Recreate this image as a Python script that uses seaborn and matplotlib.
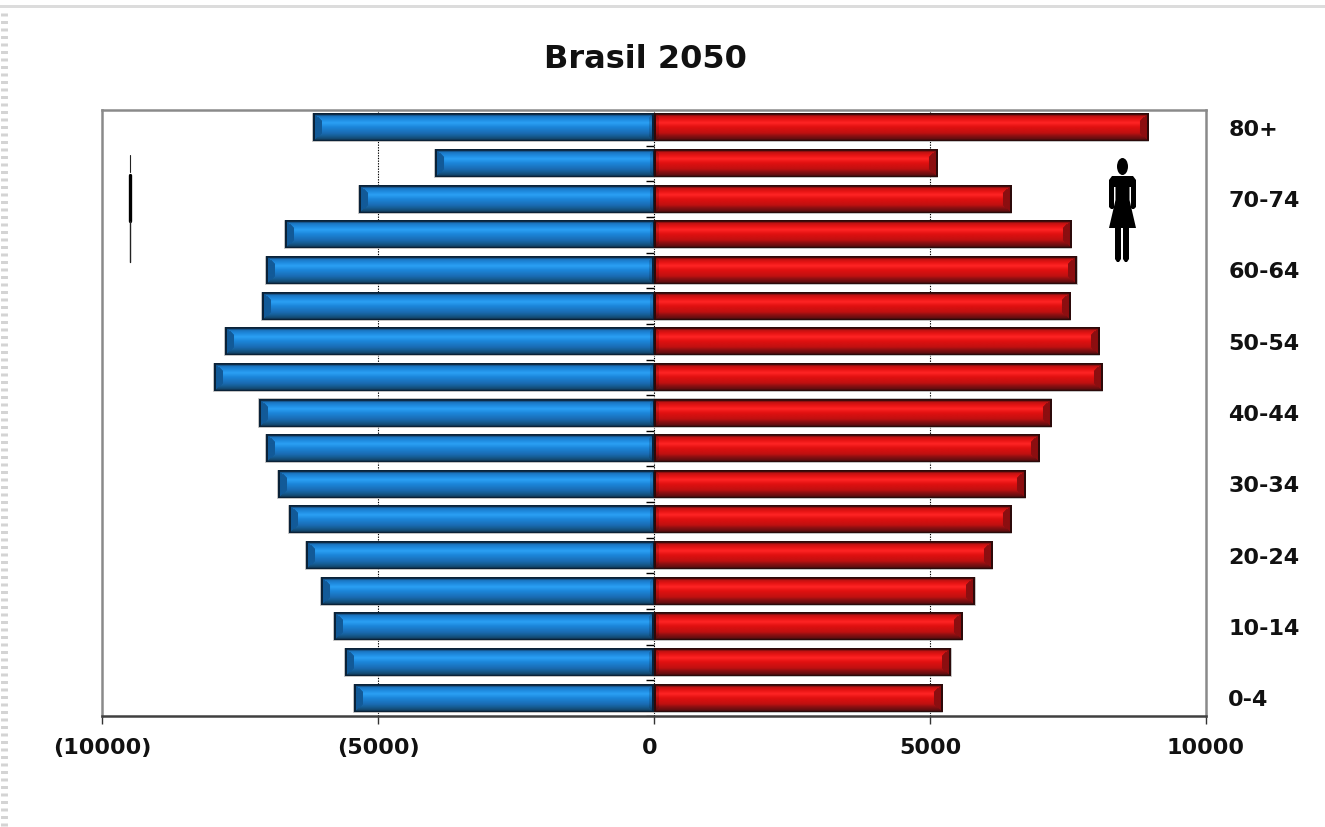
import numpy as np
import pandas as pd
import matplotlib
matplotlib.use("Agg")
import matplotlib.pyplot as plt
from matplotlib.patches import Rectangle, Polygon, Ellipse
from matplotlib.lines import Line2D
from matplotlib.colors import to_rgb
from matplotlib.transforms import ScaledTranslation
import seaborn as sns

age_groups = ["80+", "75-79", "70-74", "65-69", "60-64", "55-59", "50-54", "45-49", "40-44",
              "35-39", "30-34", "25-29", "20-24", "15-19", "10-14", "5-9", "0-4"]
men = [6170, 3970, 5350, 6690, 7020, 7110, 7780, 7980, 7160, 7020, 6820, 6620, 6310, 6040, 5790, 5590, 5430]
women = [8950, 5130, 6470, 7560, 7660, 7540, 8070, 8120, 7200, 6980, 6730, 6470, 6130, 5810, 5580, 5380, 5220]
x_ticks = [-10000, -5000, 0, 5000, 10000]
x_tick_labels = ["(10000)", "(5000)", "0", "5000", "10000"]
title = "Brasil 2050"

W, H = 1325, 827
sns.set_theme(style="white")
plt.rcParams["font.family"] = ["DejaVu Sans"]
fig = plt.figure(figsize=(W / 100, H / 100), dpi=100, facecolor="white")
ax = fig.add_axes([102 / W, 1 - 716 / H, (1206 - 102) / W, (716 - 110) / H])

df = pd.DataFrame({"age": age_groups, "men": -np.array(men), "women": women})
sns.barplot(data=df, y="age", x="men", color="#1a7fd0", width=0.76, ax=ax, orient="h")
sns.barplot(data=df, y="age", x="women", color="#e01010", width=0.76, ax=ax, orient="h")
ax.set_xlim(-10000, 10000)
ax.set_ylim(len(age_groups) - 0.5, -0.5)
ax.set_xlabel("")
ax.set_ylabel("")

PROFILE_T = [0.0, 0.05, 0.09, 0.22, 0.34, 0.50, 0.72, 0.82, 0.94, 1.0]


def bevel_image(w, h, stops, end, outline):
    stops = np.array([to_rgb(c) for c in stops])
    end = np.array(to_rgb(end))
    outline = np.array(to_rgb(outline))
    img = np.zeros((h, w, 3))
    be = 9.0
    for r in range(h):
        t = r / max(h - 1, 1)
        base = np.array([np.interp(t, PROFILE_T, stops[:, k]) for k in range(3)])
        dv = min(r, h - 1 - r)
        for c in range(w):
            outer = c
            inner = w - 1 - c
            if outer < 2 or inner < 1.5:
                col = outline
            elif outer < be and outer <= dv * 1.3:
                col = end
            elif inner < 5 and inner <= dv:
                col = base * 0.8 + outline * 0.2
            else:
                col = base
            img[r, c] = col
    return img


palette = {
    "left": (["#0a2238", "#10304e", "#1a74c0", "#1f8adf", "#2ba0f4", "#1c86da",
              "#1a6cb4", "#165f98", "#14486e", "#0a2238"], "#125a98", "#0a2238"),
    "right": (["#2c0a0a", "#4e0c0c", "#c01212", "#e81414", "#ff2424", "#e01010",
               "#c01010", "#8e1012", "#640e10", "#2c0a0a"], "#8c0e10", "#2c0a0a"),
}
for p in list(ax.patches):
    x0, x1 = sorted((p.get_x(), p.get_x() + p.get_width()))
    y0, y1 = p.get_y(), p.get_y() + p.get_height()
    if x1 - x0 <= 0:
        continue
    side = "left" if x0 < 0 else "right"
    a = ax.transData.transform([(x0, y0), (x1, y1)])
    w, h = int(round(abs(a[1, 0] - a[0, 0]))), int(round(abs(a[1, 1] - a[0, 1])))
    img = bevel_image(w, h, *palette[side])
    if side == "right":
        img = img[:, ::-1]
    ax.imshow(img, extent=(x0, x1, y1, y0), origin="upper", aspect="auto",
              interpolation="bilinear", zorder=3)
    # soft grey fringe round each bar
    p.set_facecolor("none")
    p.set_edgecolor("#b8b8b8")
    p.set_linewidth(1.2)
    p.set_zorder(2)
ax.set_xlim(-10000, 10000)
ax.set_ylim(len(age_groups) - 0.5, -0.5)

# dotted gridlines, including the central one seen in the gaps
for xv in x_ticks[1:-1]:
    ax.axvline(xv, color="black", lw=0.8, ls=(0, (1.2, 1.2)), zorder=1)
sep = np.arange(len(age_groups) + 1) - 0.5
ax.hlines(sep, -145, 0, color="black", lw=1.0, zorder=1.5)

ax.set_xticks(x_ticks)
ax.set_xticklabels(x_tick_labels, fontsize=16, fontweight="bold", color="#111111")
ax.set_yticks(range(len(age_groups)))
ax.set_yticklabels([a if i % 2 == 0 else "" for i, a in enumerate(age_groups)],
                   fontsize=16, fontweight="bold", color="#111111")
ax.tick_params(axis="y", left=False, right=False, labelleft=False, labelright=True, pad=10)
ax.tick_params(axis="x", bottom=True, length=5.5, width=1, color="#333333", pad=10)
# the reference's "0" sits slightly left of the axis
zero_label = ax.get_xticklabels()[2]
zero_label.set_transform(zero_label.get_transform() + ScaledTranslation(-4 / 100, 0, fig.dpi_scale_trans))
for s in ["top", "left", "right"]:
    ax.spines[s].set_visible(True)
    ax.spines[s].set_color("#8a8a8a")
    ax.spines[s].set_linewidth(1.8)
ax.spines["bottom"].set_visible(True)
ax.spines["bottom"].set_color("#404040")
ax.spines["bottom"].set_linewidth(1.8)

fig.text(645 / W, 1 - 60 / H, title, ha="center", va="center", fontsize=23, fontweight="bold", color="#111111")


def fx(x):
    return x / W


def fy(y):
    return 1 - y / H


def add_poly(pts):
    fig.add_artist(Polygon([(fx(x), fy(y)) for x, y in pts], closed=True, transform=fig.transFigure,
                           facecolor="black", edgecolor="none", zorder=6))


# woman pictogram
fig.add_artist(Ellipse((fx(1122.5), fy(166.5)), 11 / W, 17 / H, transform=fig.transFigure,
                       facecolor="black", edgecolor="none", zorder=6))
add_poly([(1112, 176), (1133, 176), (1136, 180), (1136, 207), (1134, 209), (1132, 209), (1131, 207),
          (1131, 187), (1129.5, 187), (1129.5, 200), (1136, 228), (1129, 228), (1129, 259), (1127, 262),
          (1125, 262), (1123, 259), (1123, 228), (1121, 228), (1121, 259), (1119, 262), (1117, 262),
          (1115, 259), (1115, 228), (1109, 228), (1115.5, 200), (1115.5, 187), (1114, 187), (1114, 207),
          (1113, 209), (1111, 209), (1109, 207), (1109, 180)])

# squashed man pictogram
fig.add_artist(Line2D([fx(129.5)] * 2, [fy(155), fy(172)], transform=fig.transFigure, color="#222222", lw=0.8, zorder=6))
fig.add_artist(Line2D([fx(129.5)] * 2, [fy(175), fy(221)], transform=fig.transFigure, color="black", lw=2.4, zorder=6))
fig.add_artist(Line2D([fx(129.5)] * 2, [fy(221), fy(262)], transform=fig.transFigure, color="#222222", lw=1.0, zorder=6))

# slide-edge decoration
fig.add_artist(Rectangle((0, fy(8)), 1, 3 / H, transform=fig.transFigure, facecolor="#dcdcdc", edgecolor="none"))
fig.add_artist(Line2D([fx(3.5)] * 2, [fy(13), 0], transform=fig.transFigure, color="#d4d4d4", lw=5,
                      ls=(0, (0.43, 0.65))))

fig.savefig("out.png", dpi=100, facecolor="white")
